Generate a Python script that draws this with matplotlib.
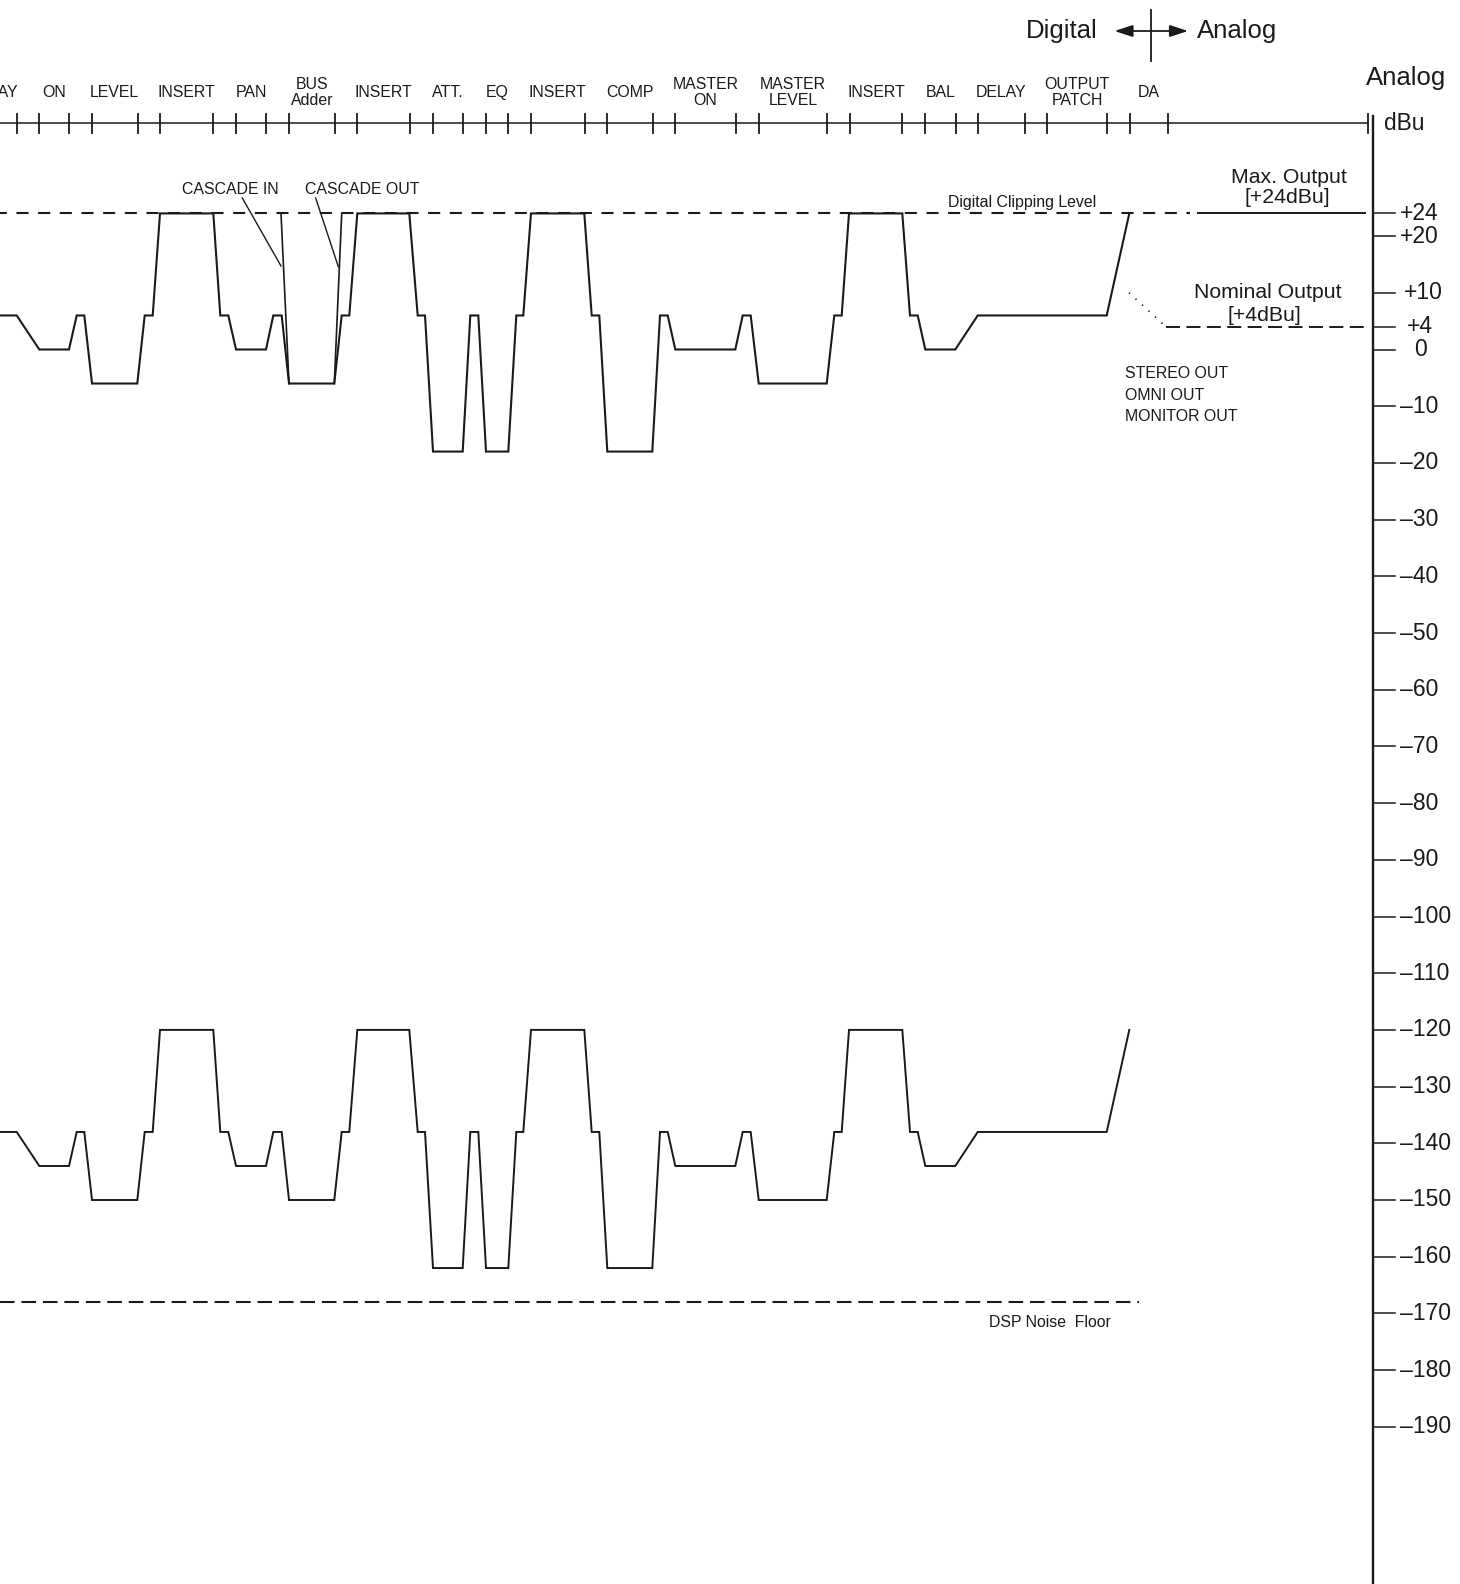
import matplotlib
matplotlib.use('Agg')
import matplotlib.pyplot as plt

plt.rcParams['font.family'] = ['Liberation Sans', 'DejaVu Sans']

# ---------------- data ----------------
stage_labels = ['DELAY', 'ON', 'LEVEL', 'INSERT', 'PAN', 'BUS\nAdder', 'INSERT', 'ATT.', 'EQ',
                'INSERT', 'COMP', 'MASTER\nON', 'MASTER\nLEVEL', 'INSERT', 'BAL', 'DELAY',
                'OUTPUT\nPATCH', 'DA']
stage_label_x = [-7, 54, 114.8, 186.5, 251, 311.8, 383.7, 448, 497, 557.8, 629.8, 705.4,
                 793, 876, 940.4, 1001, 1077, 1148.5]
stage_ticks = [16.5, 39.3, 69, 92, 137.5, 160, 213, 236, 266, 289, 334.5, 357.3, 410, 433,
               463, 486, 508.3, 531, 584.5, 607, 652.5, 675.3, 735.5, 759, 827, 850, 902.3,
               925.3, 955.5, 978, 1024.5, 1046.7, 1107, 1129.5, 1167.5, 1368]

path_x = [0, 16.7, 39.3, 69, 76.7, 84.3, 92, 137.3, 144.7, 152.7,
          160, 213.3, 220.3, 228.3, 236, 266, 273.3, 281.7, 289, 334.3,
          341.7, 349.3, 357.3, 409.3, 417.7, 425, 433, 462.7, 470.3, 478.3,
          486, 508.3, 516.3, 523.3, 531, 584.3, 591.7, 599.3, 607.3, 652.3,
          660, 667.7, 675.3, 735.3, 742.7, 750.7, 758.7, 826.7, 834.3, 841.7,
          849, 902.3, 910, 917.7, 925.3, 955.3, 977.7, 1106.7, 1129.3]
signal_level = [6, 6, 0, 0, 6, 6, -6, -6, 6, 6,
                24, 24, 6, 6, 0, 0, 6, 6, -6, -6,
                6, 6, 24, 24, 6, 6, -18, -18, 6, 6,
                -18, -18, 6, 6, 24, 24, 6, 6, -18, -18,
                6, 6, 0, 0, 6, 6, -6, -6, 6, 6,
                24, 24, 6, 6, 0, 0, 6, 6, 24]
noise_level = [-138, -138, -144, -144, -138, -138, -150, -150, -138, -138,
               -120, -120, -138, -138, -144, -144, -138, -138, -150, -150,
               -138, -138, -120, -120, -138, -138, -162, -162, -138, -138,
               -162, -162, -138, -138, -120, -120, -138, -138, -162, -162,
               -138, -138, -144, -144, -138, -138, -150, -150, -138, -138,
               -120, -120, -138, -138, -144, -144, -138, -138, -120]

cascade_in_x = [281, 289]
cascade_in_level = [24, -6]
cascade_out_x = [334.3, 341.7]
cascade_out_level = [-6, 24]

clip_level = 24
max_output = 24
nominal_output = 4
dsp_noise_floor = -168

yticks = [24, 20, 10, 4, 0, -10, -20, -30, -40, -50, -60, -70, -80, -90, -100,
          -110, -120, -130, -140, -150, -160, -170, -180, -190]
ytick_labels = ['+24', '+20', '+10', '+4', '0', '\u201310', '\u201320', '\u201330', '\u201340',
                '\u201350', '\u201360', '\u201370', '\u201380', '\u201390', '\u2013100',
                '\u2013110', '\u2013120', '\u2013130', '\u2013140', '\u2013150', '\u2013160',
                '\u2013170', '\u2013180', '\u2013190']

# ---------------- layout ----------------
W, H = 1460, 1584
Y0, K = 349.5, 5.67          # pixel row of 0 dBu, pixels per dB


def dbp(py):
    return (Y0 - py) / K


fig = plt.figure(figsize=(W / 100, H / 100), dpi=100)
ax = fig.add_axes([0, 0, 1, 1])
ax.set_xlim(0, W)
ax.set_ylim(dbp(H), dbp(0))
ax.axis('off')

ink = '#1a1a1a'
small = 11.4

# header axis
hy = dbp(123.5)
ax.plot([0, 1368], [hy, hy], color=ink, lw=1.1)
tk = 9 / K
for t in stage_ticks:
    ax.plot([t, t], [hy - tk, hy + tk], color=ink, lw=1.3)
for lab, x in zip(stage_labels, stage_label_x):
    ax.text(x, dbp(92.5), lab, ha='center', va='center', fontsize=small,
            linespacing=1.08, color=ink)

# Digital <-> Analog marker
ay = dbp(31)
ax.plot([1151, 1151], [dbp(10), dbp(61)], color=ink, lw=1.3)
for xe in (1114.5, 1188):
    ax.annotate('', xy=(xe, ay), xytext=(1151, ay),
                arrowprops=dict(arrowstyle='-|>,head_length=1.1,head_width=0.36',
                                mutation_scale=10, color=ink, lw=1.3,
                                shrinkA=0, shrinkB=0))
ax.text(1098, ay, 'Digital', ha='right', va='center', fontsize=18.5, color=ink)
ax.text(1197, ay, 'Analog', ha='left', va='center', fontsize=18.5, color=ink)

# right axis
ax.text(1406, dbp(78), 'Analog', ha='center', va='center', fontsize=18.5, color=ink)
ax.text(1384, dbp(123), 'dBu', ha='left', va='center', fontsize=16.4, color=ink)
ax.plot([1373, 1373], [dbp(116), dbp(H + 5)], color=ink, lw=1.7)
label_x = {'+10': 1404, '+4': 1406.5, '0': 1414.5}
for v, lab in zip(yticks, ytick_labels):
    ax.plot([1373, 1395], [v, v], color=ink, lw=1.1)
    ax.text(label_x.get(lab, 1400), v, lab, ha='left', va='center', fontsize=16.5, color=ink)

# reference lines
ax.plot([0, 1190], [clip_level, clip_level], color=ink, lw=1.5,
        linestyle=(2.5, (5.8, 4.6)))
ax.plot([1198, 1365], [max_output, max_output], color=ink, lw=1.4)
ax.plot([1166, 1365], [nominal_output, nominal_output], color=ink, lw=1.4,
        linestyle=(0, (7.2, 3.3)))
ax.plot([1129, 1166], [10, nominal_output], color=ink, lw=1.2, linestyle=(0, (0.8, 4.5)))
ax.plot([0, 1139], [dsp_noise_floor, dsp_noise_floor], color=ink, lw=1.5,
        linestyle=(0, (7.0, 3.3)))

# signal paths
ax.plot(path_x, signal_level, color=ink, lw=1.5, solid_joinstyle='miter')
ax.plot(path_x, noise_level, color=ink, lw=1.4, solid_joinstyle='miter')
ax.plot(cascade_in_x, cascade_in_level, color=ink, lw=1.2)
ax.plot(cascade_out_x, cascade_out_level, color=ink, lw=1.2)

# annotations
ax.text(182, dbp(190), 'CASCADE IN', ha='left', va='center', fontsize=small, color=ink)
ax.text(305, dbp(190), 'CASCADE OUT', ha='left', va='center', fontsize=small, color=ink)
ax.plot([242.3, 281], [dbp(198), dbp(266)], color=ink, lw=1.0)
ax.plot([315.7, 338.3], [dbp(198), dbp(266.7)], color=ink, lw=1.0)
ax.text(948, dbp(203), 'Digital Clipping Level', ha='left', va='center', fontsize=small, color=ink)
ax.text(1289, dbp(177.3), 'Max. Output', ha='center', va='center', fontsize=15.3, color=ink)
ax.text(1287.5, dbp(197.3), '[+24dBu]', ha='center', va='center', fontsize=15.3, color=ink)
ax.text(1268, dbp(293), 'Nominal Output', ha='center', va='center', fontsize=15.3, color=ink)
ax.text(1264, dbp(315.7), '[+4dBu]', ha='center', va='center', fontsize=15.3, color=ink)
for i, lab in enumerate(['STEREO OUT', 'OMNI OUT', 'MONITOR OUT']):
    ax.text(1125, dbp(373.3 + 21.8 * i), lab, ha='left', va='center', fontsize=small, color=ink)
ax.text(989, dbp(1322.5), 'DSP Noise  Floor', ha='left', va='center', fontsize=small, color=ink)

fig.savefig('out.png', dpi=100, facecolor='white')
